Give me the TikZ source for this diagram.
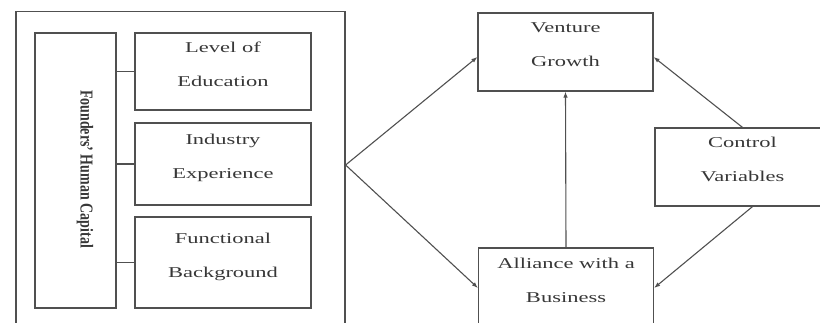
\documentclass[tikz,border=0pt]{standalone}
\usepackage{fontspec}
\setmainfont{Liberation Serif}
\usepackage{graphicx}
\usepackage{tikz}
\usetikzlibrary{arrows.meta, positioning}
\definecolor{lineGray}{RGB}{80, 80, 80}
\definecolor{textGray}{RGB}{55, 55, 55}
\newcommand{\wideline}[1]{\scalebox{1.5}[1]{#1}}

\begin{document}
\begin{tikzpicture}[x=1pt, y=1pt,
    box/.style={draw=lineGray, line width=1.2pt, minimum width=176pt,
                minimum height=78pt, align=center, text=textGray,
                font={\fontsize{15}{34}\selectfont}, text depth=15pt},
    link/.style={draw=lineGray, line width=1.1pt},
    arrow/.style={link, -{Latex[length=6pt, width=4.5pt]}}
]
    \clip (0,0) rectangle (820,323);
    \useasboundingbox (0,0) rectangle (820,323);

    % left block
    \node[draw=lineGray, line width=1.2pt, minimum width=329pt,
          minimum height=318pt] (hc) at (180.5,152.5) {};
    \node[draw=lineGray, line width=1.2pt, minimum width=81pt,
          minimum height=275pt] (fhc) at (75.5,152.5) {};
    \node[rotate=-90, text=textGray, font=\bfseries\fontsize{14}{18}\selectfont]
          (fhct) at (85,154) {\scalebox{1}[1.3]{Founders' Human Capital}};

    \node[box, minimum height=77pt] (edu) at (223,251.5)
          {\wideline{Level of}\\\wideline{Education}};
    \node[box, minimum height=82pt] (ind) at (223,159)
          {\wideline{Industry}\\\wideline{Experience}};
    \node[box, minimum height=91pt] (fun) at (223,60.5)
          {\wideline{Functional}\\\wideline{Background}};

    \foreach \sub in {edu, ind, fun}
        \draw[link] (\sub.west) -- (\sub.west -| fhc.east);

    % right block
    \node[box, minimum width=175pt] (vg) at (565.5,271)
          {\wideline{Venture}\\\wideline{Growth}};
    \node[box, minimum width=175pt, minimum height=80pt] (ab) at (566,35)
          {\wideline{Alliance with a}\\\wideline{Business}};
    \node[box, minimum width=175pt] (cv) at (742.5,156)
          {\wideline{Control}\\\wideline{Variables}};

    \coordinate (split) at (hc.east |- 0,158);
    \draw[arrow] (split) -- ([yshift=-5pt]vg.west);
    \draw[arrow] (split) -- (ab.west);
    \draw[arrow] (ab.north) -- (vg.south);
    \draw[arrow] (cv.north) -- ([yshift=-5pt]vg.east);
    \draw[arrow] ([xshift=10pt]cv.south) -- (ab.east);
\end{tikzpicture}
\end{document}
